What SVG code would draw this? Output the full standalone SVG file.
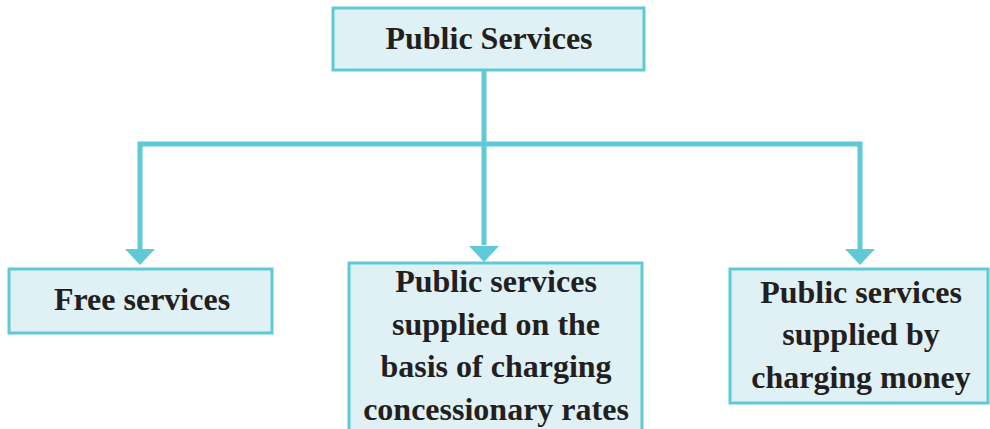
<svg xmlns="http://www.w3.org/2000/svg" width="990" height="429" viewBox="0 0 990 429">
<style>
.box{fill:#dff1f5;stroke:#5fc9d8;stroke-width:3}
.t{font-family:"Liberation Serif","Times New Roman",serif;font-weight:bold;font-size:32px;fill:#231f20;text-anchor:middle}
.ln{fill:none;stroke:#5fc9d8;stroke-width:5}
.ah{fill:#5fc9d8}
</style>
<rect width="990" height="429" fill="#ffffff"/>
<g id="connectors">
<path class="ln" d="M484 70 V245"/>
<path class="ln" d="M140 249 V144 H860 V249"/>
<polygon class="ah" points="125,249 155,249 140,265"/>
<polygon class="ah" points="469,246 499,246 484,262"/>
<polygon class="ah" points="845,249 875,249 860,265"/>
</g>
<g id="top">
<rect class="box" x="333" y="8" width="311" height="62"/>
<text class="t" x="489" y="49">Public Services</text>
</g>
<g id="free">
<rect class="box" x="9" y="269" width="263" height="64"/>
<text class="t" x="142" y="310">Free services</text>
</g>
<g id="concessionary">
<rect class="box" x="349" y="263" width="293" height="180"/>
<text class="t" x="496" y="292">Public services</text>
<text class="t" x="496" y="335">supplied on the</text>
<text class="t" x="496" y="377">basis of charging</text>
<text class="t" x="496" y="420">concessionary rates</text>
</g>
<g id="charging">
<rect class="box" x="730" y="269" width="258" height="134"/>
<text class="t" x="861" y="303">Public services</text>
<text class="t" x="861" y="345">supplied by</text>
<text class="t" x="861" y="388">charging money</text>
</g>
</svg>
